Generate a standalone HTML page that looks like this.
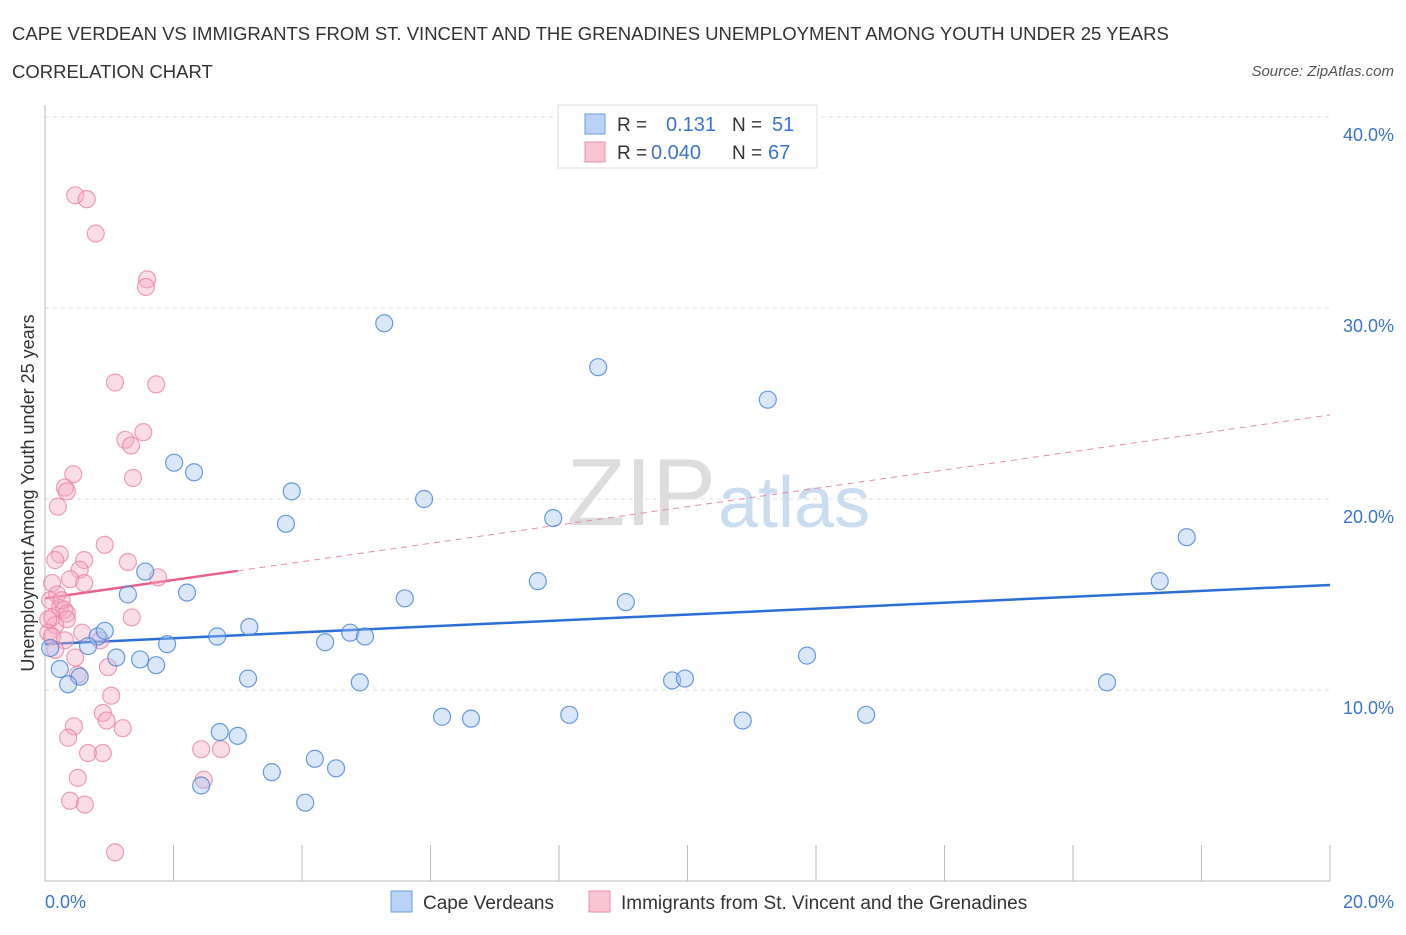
<!DOCTYPE html>
<html><head><meta charset="utf-8"><style>
body{margin:0;background:#fff;font-family:"Liberation Sans",sans-serif;}
svg text{font-family:"Liberation Sans",sans-serif;}
</style></head><body>
<svg id="chart" width="1406" height="930">
<text x="12" y="40" font-size="18.5" fill="#333">CAPE VERDEAN VS IMMIGRANTS FROM ST. VINCENT AND THE GRENADINES UNEMPLOYMENT AMONG YOUTH UNDER 25 YEARS</text>
<text x="12" y="78" font-size="18.5" fill="#333">CORRELATION CHART</text>
<text x="1394" y="76" font-size="15" fill="#555" font-style="italic" text-anchor="end">Source: ZipAtlas.com</text>
<text x="716" y="525" font-size="96" fill="#ddd" text-anchor="end" font-family="Liberation Serif">ZIP</text>
<text x="718" y="527" font-size="72" fill="#c9dcf0">atlas</text>
<g id="grid"></g><g id="axes"></g><g id="lines"></g><g id="pts"></g>
<text transform="translate(34,493) rotate(-90)" font-size="18" fill="#333" text-anchor="middle">Unemployment Among Youth under 25 years</text>
<text x="45" y="908" font-size="18" fill="#3a74d0">0.0%</text>
<text x="1394" y="908" font-size="18" fill="#3a74d0" text-anchor="end">20.0%</text>
<g>
<rect x="558" y="105" width="259" height="63" fill="#fff" stroke="#ddd"/>
<rect x="585" y="114" width="20" height="20" fill="#b9d2f5" stroke="#6a9ee0"/>
<rect x="585" y="142" width="20" height="20" fill="#f9c4d4" stroke="#e890aa"/>
<text x="617" y="131" font-size="19" fill="#333">R =</text>
<text x="666" y="131" font-size="20" fill="#3a74d0">0.131</text>
<text x="732" y="131" font-size="19" fill="#333">N =</text>
<text x="772" y="131" font-size="20" fill="#3a74d0">51</text>
<text x="617" y="159" font-size="19" fill="#333">R =</text>
<text x="651" y="159" font-size="20" fill="#3a74d0">0.040</text>
<text x="732" y="159" font-size="19" fill="#333">N =</text>
<text x="768" y="159" font-size="20" fill="#3a74d0">67</text>
</g>
<g>
<rect x="391" y="891" width="21" height="21" fill="#b9d2f5" stroke="#6a9ee0"/>
<text x="423" y="909" font-size="19" fill="#333">Cape Verdeans</text>
<rect x="589" y="891" width="21" height="21" fill="#f9c4d4" stroke="#e890aa"/>
<text x="621" y="909" font-size="19" fill="#333">Immigrants from St. Vincent and the Grenadines</text>
</g>
</svg>
<script>
const yTicks=[10,20,30,40];
const yTickLabels=["10.0%","20.0%","30.0%","40.0%"];
const xTicks=[0,2,4,6,8,10,12,14,16,18,20];
const blueX=[5.28,8.61,11.25,2.01,2.32,3.84,5.90,3.75,7.91,17.77,17.35,7.67,1.56,2.21,1.29,5.60,9.04,0.82,0.93,0.67,2.68,3.18,1.90,4.36,4.75,4.98,1.11,1.48,1.73,11.86,0.23,0.54,0.36,3.16,4.90,9.76,9.96,16.53,6.18,6.63,8.16,10.86,12.78,2.72,3.00,3.53,4.20,4.53,2.43,4.05,0.08];
const blueY=[29.2,26.9,25.2,21.9,21.4,20.4,20.0,18.7,19.0,18.0,15.7,15.7,16.2,15.1,15.0,14.8,14.6,12.8,13.1,12.3,12.8,13.3,12.4,12.5,13.0,12.8,11.7,11.6,11.3,11.8,11.1,10.7,10.3,10.6,10.4,10.5,10.6,10.4,8.6,8.5,8.7,8.4,8.7,7.8,7.6,5.7,6.4,5.9,5.0,4.1,12.2];
const pinkX=[0.47,0.65,0.79,1.59,1.57,1.09,1.73,1.53,1.25,1.34,1.37,0.44,0.31,0.34,0.20,0.93,0.23,0.16,1.29,0.61,0.54,1.76,0.39,0.61,0.11,0.19,0.23,0.30,0.34,0.11,1.35,0.34,0.16,0.05,0.58,0.86,0.11,0.31,0.16,0.47,0.98,0.51,1.03,0.90,0.96,1.21,0.45,0.36,2.43,2.74,0.67,0.90,0.51,2.47,0.39,0.62,1.09,0.05,0.08,0.26];
const pinkY=[35.9,35.7,33.9,31.5,31.1,26.1,26.0,23.5,23.1,22.8,21.1,21.3,20.6,20.4,19.6,17.6,17.1,16.8,16.7,16.8,16.3,15.9,15.8,15.6,15.6,15.0,14.3,14.2,14.0,13.8,13.8,13.7,13.4,13.0,13.0,12.6,12.8,12.6,12.1,11.7,11.2,10.8,9.7,8.8,8.4,8.0,8.1,7.5,6.9,6.9,6.7,6.7,5.4,5.3,4.2,4.0,1.5,13.7,14.7,14.7];
const blueFit=[12.4,15.5];
const pinkFit=[14.8,24.4];
const pinkSolidEnd=3.0;
const NS="http://www.w3.org/2000/svg";
const X=v=>45+v/20*1285;
const Y=v=>881-v*19.1;
function mk(tag,attrs,parent){const e=document.createElementNS(NS,tag);for(const k in attrs)e.setAttribute(k,attrs[k]);document.getElementById(parent).appendChild(e);return e;}
yTicks.forEach((t,i)=>{
 const g=mk('line',{x1:45,x2:1330,y1:Y(t),y2:Y(t),stroke:'#ddd','stroke-dasharray':'4,4'},'grid');
 
 
 const l=mk('text',{x:1394,y:Y(t)+24,'font-size':18,fill:'#3a74d0','text-anchor':'end'},'grid');
 l.textContent=yTickLabels[i];
 
 
});
const topGrid=mk('line',{x1:45,x2:1330,y1:117,y2:117,stroke:'#ddd','stroke-dasharray':'4,4'},'grid');


const ya=mk('line',{x1:45,x2:45,y1:105,y2:881,stroke:'#bbb'},'axes');


const xa=mk('line',{x1:45,x2:1330,y1:881,y2:881,stroke:'#bbb'},'axes');


xTicks.forEach(t=>{
 const k=mk('line',{x1:X(t),x2:X(t),y1:845,y2:881,stroke:'#bbb'},'axes');
 
 
});
const bl=mk('line',{x1:X(0),y1:Y(blueFit[0]),x2:X(20),y2:Y(blueFit[1]),stroke:'#2b6fd6','stroke-width':2.5},'lines');


const pAt=x=>pinkFit[0]+(pinkFit[1]-pinkFit[0])*x/20;
const pd=mk('line',{x1:X(pinkSolidEnd),y1:Y(pAt(pinkSolidEnd)),x2:X(20),y2:Y(pinkFit[1]),stroke:'#e88aa8','stroke-width':1,'stroke-dasharray':'6,5'},'lines');


const ps=mk('line',{x1:X(0),y1:Y(pinkFit[0]),x2:X(pinkSolidEnd),y2:Y(pAt(pinkSolidEnd)),stroke:'#e8608a','stroke-width':2.5},'lines');


pinkX.forEach((x,i)=>{
 const c=mk('circle',{cx:X(x),cy:Y(pinkY[i]),r:8.5,fill:'rgba(246,170,195,0.4)',stroke:'rgba(232,128,160,0.75)','stroke-width':1.2},'pts');
 
 
});
blueX.forEach((x,i)=>{
 const c=mk('circle',{cx:X(x),cy:Y(blueY[i]),r:8.5,fill:'rgba(160,196,240,0.4)',stroke:'rgba(70,130,215,0.8)','stroke-width':1.2},'pts');
 
 
});
</script>
</body></html>
